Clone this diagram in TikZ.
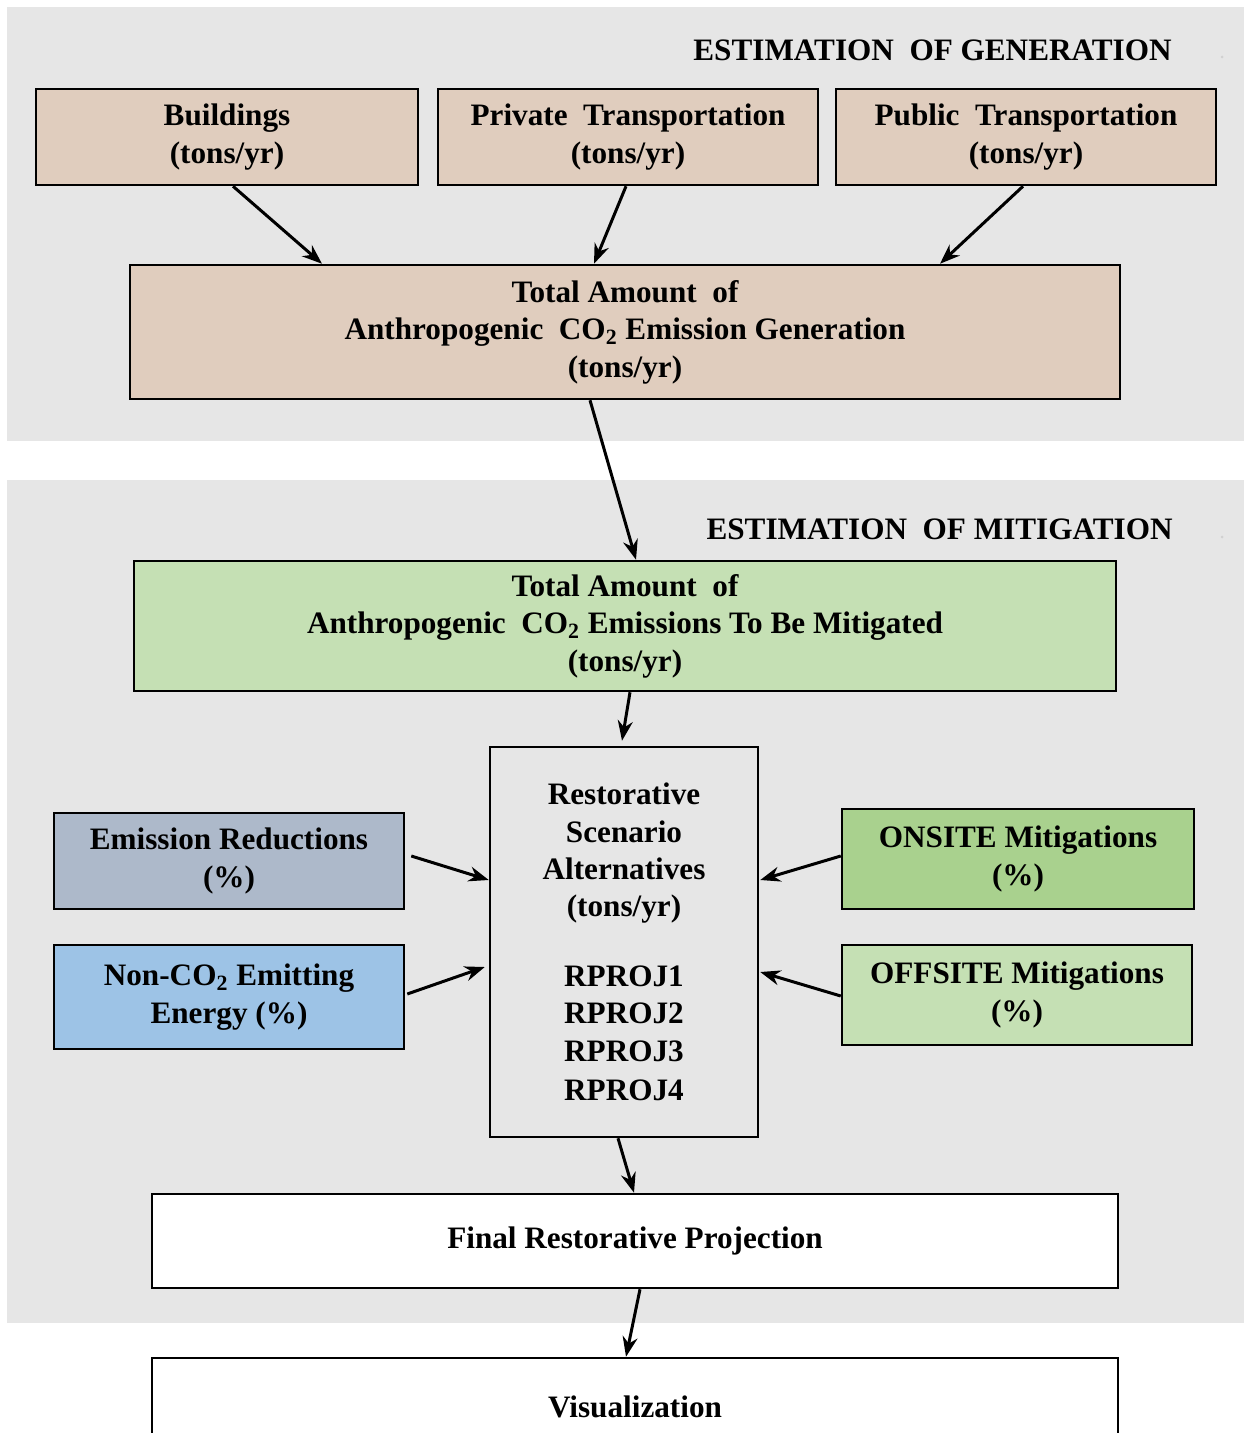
\documentclass[tikz,border=0pt]{standalone}
\usepackage{fontspec}
\setmainfont{Liberation Serif}
\usetikzlibrary{calc,arrows.meta}
\definecolor{panelgray}{HTML}{E6E6E6}
\definecolor{tan}{HTML}{E0CDBE}
\definecolor{lightgreen}{HTML}{C5E0B4}
\definecolor{midgreen}{HTML}{A9D18E}
\definecolor{slateblue}{HTML}{ADB9CA}
\definecolor{skyblue}{HTML}{9DC3E6}
\tikzset{
  box/.style={draw=black, line width=1.25pt, inner sep=0pt, align=center,
    font=\fontsize{15.6}{18.7}\selectfont\bfseries},
  flow/.style={-{Stealth[length=10pt,width=7.5pt]}, line width=1.5pt},
  paneltitle/.style={anchor=east, inner sep=0pt, font=\fontsize{15.6}{18}\selectfont\bfseries},
}
\begin{document}
\begin{tikzpicture}[x=0.5pt,y=-0.5pt]
\useasboundingbox (0,0) rectangle (1244,1433);
\fill[white] (0,0) rectangle (1244,1433);
% the two shaded stages
\fill[panelgray] (7,7) rectangle (1244,441);
\fill[panelgray] (7,480) rectangle (1244,1323);
\fill[black!18] (1222,57) circle (1.5);
\fill[black!18] (1222,537) circle (1.5);
\node[paneltitle] (gentitle) at (1172,50) {ESTIMATION\ \ OF GENERATION};
\node[paneltitle] (mittitle) at (1173,529) {ESTIMATION\ \ OF MITIGATION};

% generation sources
\node[box, fill=tan, minimum width=191pt, minimum height=48pt] (bld) at (227,137) {Buildings\\(tons/yr)};
\node[box, fill=tan, minimum width=190pt, minimum height=48pt] (priv) at (628,137) {Private\ \ Transportation\\(tons/yr)};
\node[box, fill=tan, minimum width=190pt, minimum height=48pt] (pub) at (1026,137) {Public\ \ Transportation\\(tons/yr)};
\node[box, fill=tan, minimum width=495pt, minimum height=67pt] (gen) at (625,332)
  {Total Amount\ \ of\\Anthropogenic\ \ CO\textsubscript{2} Emission Generation\\(tons/yr)};

% mitigation stage
\node[box, fill=lightgreen, minimum width=491pt, minimum height=65pt] (mit) at (625,626)
  {Total Amount\ \ of\\Anthropogenic\ \ CO\textsubscript{2} Emissions To Be Mitigated\\(tons/yr)};
\node[box, fill=panelgray, minimum width=134pt, minimum height=195pt] (rsa) at (624,942)
  {Restorative\\Scenario\\Alternatives\\(tons/yr)\\[16pt]RPROJ1\\RPROJ2\\RPROJ3\\[1pt]RPROJ4};
\node[box, fill=slateblue, minimum width=175pt, minimum height=48pt] (er) at (229,861) {Emission Reductions\\(\%)};
\node[box, fill=skyblue, minimum width=175pt, minimum height=52pt] (nce) at (229,997) {Non-CO\textsubscript{2} Emitting\\Energy (\%)};
\node[box, fill=midgreen, minimum width=176pt, minimum height=50pt] (on) at (1018,859) {ONSITE Mitigations\\(\%)};
\node[box, fill=lightgreen, minimum width=175pt, minimum height=50pt] (off) at (1017,995) {OFFSITE Mitigations\\(\%)};
\node[box, fill=white, minimum width=483pt, minimum height=47pt] (fin) at (635,1241) {Final Restorative Projection};
\node[box, fill=white, minimum width=483pt, minimum height=49pt] (vis) at (635,1407) {Visualization};

% connectors
\draw[flow] ($(bld.south)+(6,0)$) -- ($(gen.north)+(-303,0)$);
\draw[flow] ($(priv.south)+(-2,0)$) -- ($(gen.north)+(-31,0)$);
\draw[flow] ($(pub.south)+(-3,0)$) -- ($(gen.north)+(315,0)$);
\draw[flow] ($(gen.south)+(-35,0)$) -- ($(mit.north)+(11,0)$);
\draw[flow] ($(mit.south)+(5,0)$) -- ($(rsa.north)+(-2,-5)$);
\draw[flow] ($(er.east)+(6,-5)$) -- ($(rsa.west)+(0,-62)$);
\draw[flow] ($(nce.east)+(2,-3)$) -- ($(rsa.west)+(-4,25)$);
\draw[flow] ($(on.west)+(0,-3)$) -- ($(rsa.east)+(1,-62)$);
\draw[flow] ($(off.west)+(0,1)$) -- ($(rsa.east)+(1,30)$);
\draw[flow] ($(rsa.south)+(-6,0)$) -- ($(fin.north)+(-1,0)$);
\draw[flow] ($(fin.south)+(5,0)$) -- ($(vis.north)+(-9,0)$);
\end{tikzpicture}
\end{document}
